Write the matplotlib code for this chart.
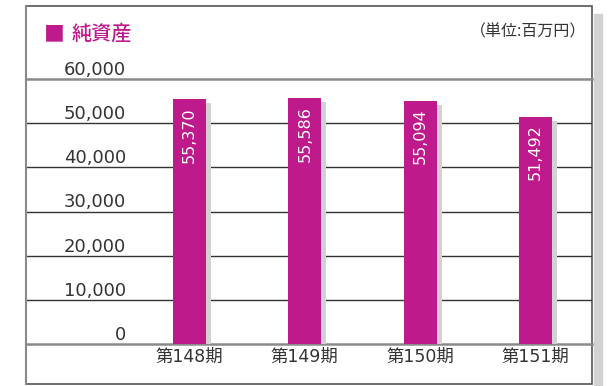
import matplotlib.pyplot as plt
import matplotlib.patches as ptc
import matplotlib.lines as mln
import numpy as np

plt.rcParams['font.family'] = ['DejaVu Sans', 'Noto Sans CJK JP']

# net assets by fiscal period (million yen)
periods = ['第148期', '第149期', '第150期', '第151期']
net_assets = [55370, 55586, 55094, 51492]
yticks = [0, 10000, 20000, 30000, 40000, 50000, 60000]

bar_col = '#be1a8c'
shadow_col = '#d2d2d2'
txt_col = '#333333'

W, H = 616, 386
fig = plt.figure(figsize=[W/100, H/100], dpi=100)

def fx(px):
    return px / W

def fy(py):
    return 1 - py / H

# outer frame with a drop shadow on the right
fig.patches.append(ptc.Rectangle((fx(594), fy(386)), fx(8), fy(14) - fy(386),
                                 transform=fig.transFigure, color=shadow_col, zorder=0))
fig.patches.append(ptc.Rectangle((fx(26), fy(384)), fx(566), fy(6) - fy(384),
                                 transform=fig.transFigure, facecolor='white',
                                 edgecolor='#555555', linewidth=1.2, zorder=1))
fig.lines.append(mln.Line2D([fx(26), fx(26)], [fy(384), fy(6)], transform=fig.transFigure,
                            color='#8a8a8a', linewidth=1.5, zorder=2))

# plot area: y=0 at 344px, y=60000 at 79px
ax = fig.add_axes([fx(26), fy(344), fx(566), fy(79) - fy(344)])
ax.set_zorder(2)
ax.patch.set_alpha(0)
for s in ax.spines.values():
    s.set_visible(False)
ax.set_ylim(0, 60000)
ax.set_xlim(-1.418, 3.491)
ax.set_xticks([])
ax.set_yticks([])

px_x = 4.909 / 566      # data units per pixel, x
px_y = 60000 / 265      # data units per pixel, y

# horizontal rules with their labels sitting just above
for t in yticks:
    if t in (0, 60000):
        ax.axhline(t, color='#8a8a8a', linewidth=1.8, zorder=1, clip_on=False)
    else:
        ax.axhline(t, color='#333333', linewidth=1.0, zorder=1)
    ax.text(-1.418 + 100 * px_x, t + 4 * px_y, f'{t:,}', ha='right', va='baseline',
            fontsize=13, color=txt_col)

x = np.arange(len(periods))
wid = 33 * px_x
vals = np.array(net_assets)

# shadows behind the bars
ax.bar(x + 5 * px_x, vals - 4 * px_y, width=wid, color=shadow_col, zorder=2)
ax.bar(x, vals, width=wid, color=bar_col, zorder=3)

for xi, v in zip(x, vals):
    ax.text(xi, v - 8 * px_y, f'{v:,}', rotation=90, ha='center', va='top',
            color='white', fontsize=11.5, zorder=4)
    ax.text(xi, -13 * px_y, periods[xi], ha='center', va='center',
            fontsize=12.5, color=txt_col, clip_on=False)

# title and unit
fig.text(fx(44), fy(34), '■', fontsize=15, color=bar_col, va='center', ha='left',
         family='Noto Sans CJK JP')
fig.text(fx(72), fy(34), '純資産', fontsize=14.5, color=bar_col, va='center', ha='left',
         family='Noto Sans CJK JP', fontweight='medium')
fig.text(fx(586), fy(32), '（単位:百万円）', fontsize=11.5, color=txt_col,
         va='center', ha='right', family='Noto Sans CJK JP')

plt.savefig('out.png', dpi=100)
